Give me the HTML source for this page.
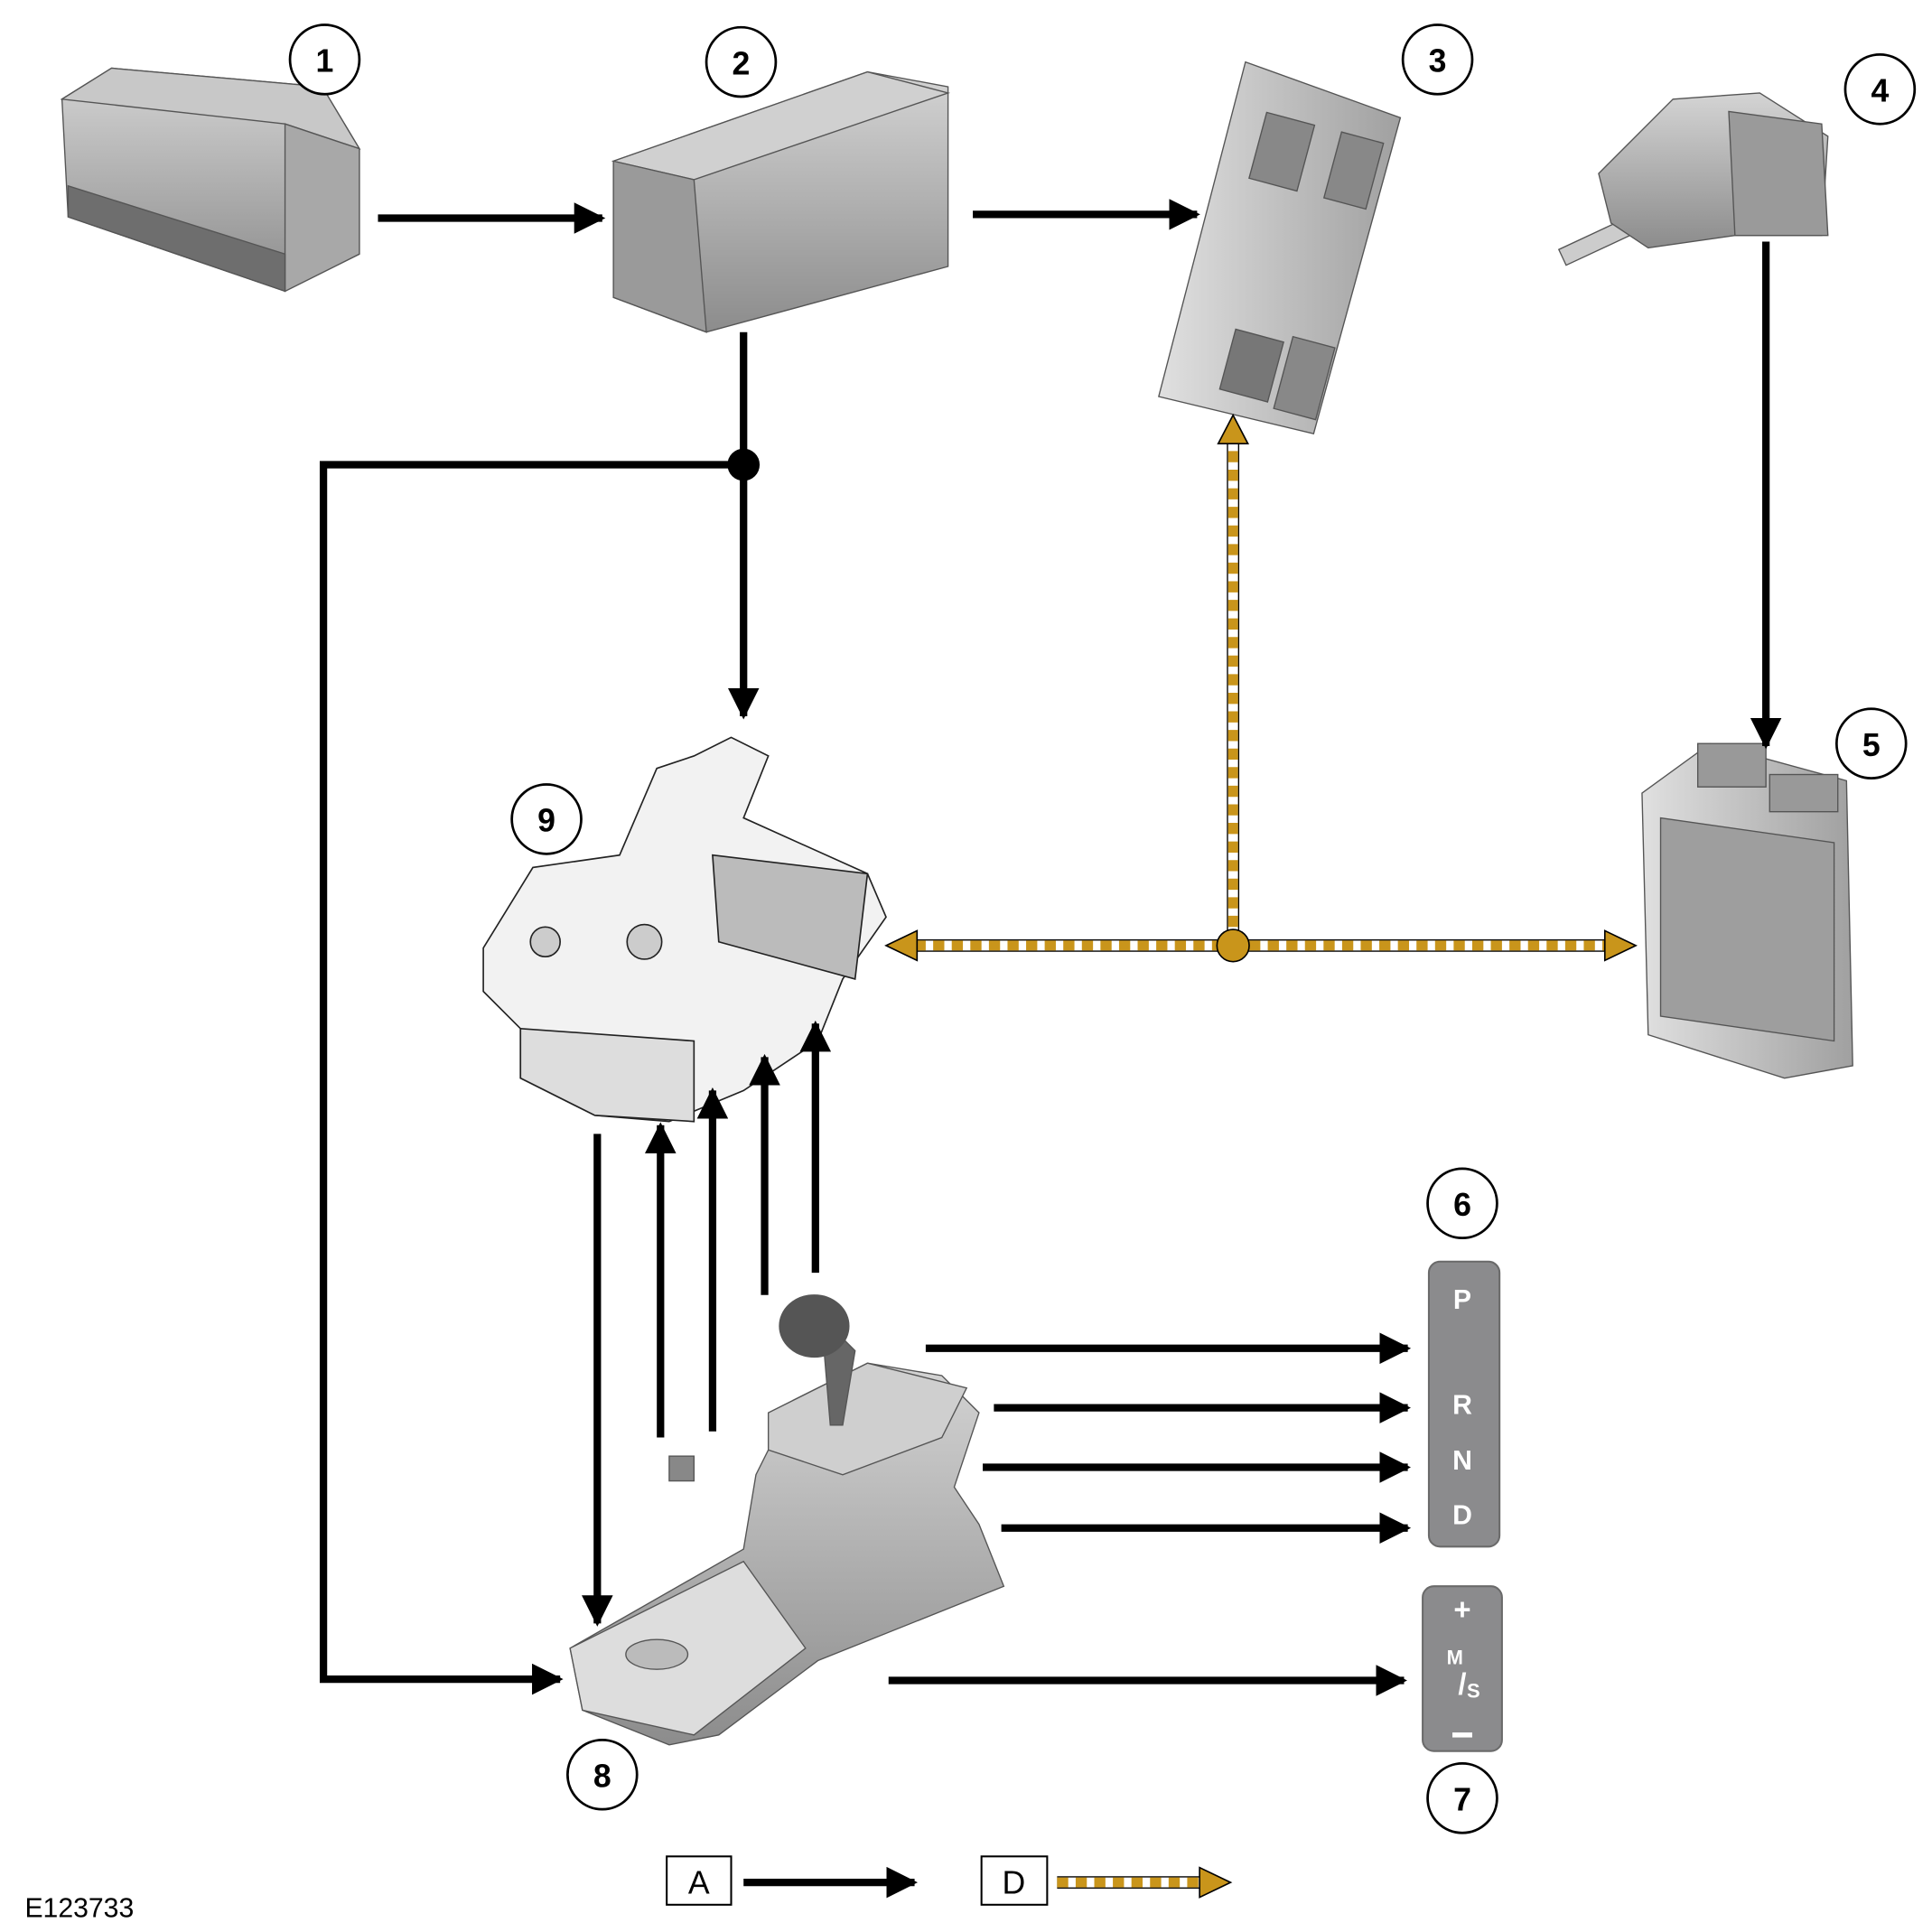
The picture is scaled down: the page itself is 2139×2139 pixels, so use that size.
<!DOCTYPE html>
<html><head><meta charset="utf-8"><style>
html,body{margin:0;padding:0;background:#fff}
svg{display:block}
text{font-family:"Liberation Sans",sans-serif}
</style></head><body>
<svg width="2139" height="2139" viewBox="0 0 1559 1559" xmlns="http://www.w3.org/2000/svg">
<defs>
<linearGradient id="g1" x1="0" y1="0" x2="0" y2="1"><stop offset="0" stop-color="#d4d4d4"/><stop offset="1" stop-color="#8c8c8c"/></linearGradient>
<linearGradient id="g2" x1="0" y1="0" x2="1" y2="0"><stop offset="0" stop-color="#e0e0e0"/><stop offset="1" stop-color="#a0a0a0"/></linearGradient>
<marker id="ah" viewBox="0 0 10 10" refX="9" refY="5" markerWidth="4.2" markerHeight="4.2" orient="auto" markerUnits="strokeWidth"><path d="M0,0 L10,5 L0,10 z" fill="#000"/></marker>
</defs>

<!-- Component 1 battery -->
<g stroke="#555" stroke-width="1">
<polygon points="50,80 90,55 260,70 290,120 290,205 230,235 55,175" fill="url(#g1)"/>
<polygon points="50,80 90,55 260,70 290,120 230,100" fill="#c8c8c8"/>
<polygon points="230,100 290,120 290,205 230,235" fill="#a8a8a8"/>
<polygon points="55,150 230,205 230,235 55,175" fill="#6e6e6e"/>
</g>
<!-- Component 2 fuse box -->
<g stroke="#555" stroke-width="1">
<polygon points="495,130 700,58 765,70 765,215 570,268 495,240" fill="url(#g1)"/>
<polygon points="495,130 700,58 765,75 560,145" fill="#d0d0d0"/>
<polygon points="495,130 560,145 570,268 495,240" fill="#9a9a9a"/>
</g>
<!-- Component 3 board -->
<g stroke="#555" stroke-width="1">
<polygon points="1005,50 1130,95 1060,350 935,320" fill="url(#g2)"/>
<rect x="1015" y="95" width="40" height="55" fill="#888" transform="rotate(15 1035 120)"/>
<rect x="1075" y="110" width="35" height="55" fill="#888" transform="rotate(15 1092 137)"/>
<rect x="990" y="270" width="40" height="50" fill="#777" transform="rotate(15 1010 295)"/>
<rect x="1035" y="275" width="35" height="60" fill="#888" transform="rotate(15 1052 305)"/>
</g>
<!-- Component 4 sensor -->
<g stroke="#555" stroke-width="1">
<rect x="1258" y="188" width="60" height="14" fill="#ccc" transform="rotate(-25 1288 195)"/>
<polygon points="1290,140 1350,80 1420,75 1475,110 1470,190 1400,190 1330,200 1300,180" fill="url(#g1)"/>
<polygon points="1395,90 1470,100 1475,190 1400,190" fill="#9a9a9a"/>
</g>
<!-- Component 5 ECU -->
<g stroke="#555" stroke-width="1">
<polygon points="1325,640 1380,600 1490,630 1495,860 1440,870 1330,835" fill="url(#g2)"/>
<rect x="1370" y="600" width="55" height="35" fill="#999"/>
<rect x="1428" y="625" width="55" height="30" fill="#999"/>
<polygon points="1340,660 1480,680 1480,840 1340,820" fill="#9e9e9e"/>
</g>
<!-- Component 9 valve body -->
<g stroke="#222" stroke-width="1.2">
<polygon points="390,765 430,700 500,690 530,620 560,610 590,595 620,610 600,660 700,705 715,740 680,790 660,840 600,880 540,905 480,900 420,870 420,830 390,800" fill="#f2f2f2"/>
<polygon points="420,830 560,840 560,905 480,900 420,870" fill="#ddd"/>
<polygon points="575,690 700,705 690,790 580,760" fill="#bbb"/>
<circle cx="440" cy="760" r="12" fill="#ccc"/>
<circle cx="520" cy="760" r="14" fill="#ccc"/>
</g>
<!-- Component 8 shifter -->
<g stroke="#555" stroke-width="1">
<polygon points="460,1330 600,1250 610,1190 640,1130 700,1100 760,1110 790,1140 770,1200 790,1230 810,1280 660,1340 580,1400 540,1408 470,1380" fill="url(#g1)"/>
<polygon points="620,1140 700,1100 780,1120 760,1160 680,1190 620,1170" fill="#cfcfcf"/>
<polygon points="460,1330 600,1260 650,1330 560,1400 470,1380" fill="#ddd"/>
<ellipse cx="530" cy="1335" rx="25" ry="12" fill="#bbb"/>
<polygon points="680,1150 690,1090 675,1075 665,1090 670,1150" fill="#666"/>
<ellipse cx="657" cy="1070" rx="28" ry="25" fill="#555"/>
<rect x="540" y="1175" width="20" height="20" fill="#888"/>
</g>

<!-- Black connectors -->
<g stroke="#000" stroke-width="6" fill="none" marker-end="url(#ah)">
<line x1="305" y1="176" x2="486" y2="176"/>
<line x1="785" y1="173" x2="966" y2="173"/>
<line x1="1425" y1="195" x2="1425" y2="602"/>
<line x1="600" y1="268" x2="600" y2="578"/>
<polyline points="600,375 261,375 261,1355 452,1355"/>
<line x1="482" y1="915" x2="482" y2="1310"/>
<line x1="533" y1="1160" x2="533" y2="908"/>
<line x1="575" y1="1155" x2="575" y2="880"/>
<line x1="617" y1="1045" x2="617" y2="853"/>
<line x1="658" y1="1027" x2="658" y2="826"/>
<line x1="747" y1="1088" x2="1136" y2="1088"/>
<line x1="802" y1="1136" x2="1136" y2="1136"/>
<line x1="793" y1="1184" x2="1136" y2="1184"/>
<line x1="808" y1="1233" x2="1136" y2="1233"/>
<line x1="717" y1="1356" x2="1133" y2="1356"/>
<line x1="600" y1="1519" x2="738" y2="1519"/>
</g>
<circle cx="600" cy="375" r="13" fill="#000"/>

<!-- Gold dashed connectors -->
<g fill="none">
<line x1="995" y1="763" x2="995" y2="355" stroke="#000" stroke-width="10"/>
<line x1="995" y1="763" x2="995" y2="355" stroke="#fff" stroke-width="8"/>
<line x1="995" y1="763" x2="995" y2="355" stroke="#c9951b" stroke-width="8" stroke-dasharray="9,6"/>
<line x1="738" y1="763" x2="1298" y2="763" stroke="#000" stroke-width="10"/>
<line x1="738" y1="763" x2="1298" y2="763" stroke="#fff" stroke-width="8"/>
<line x1="738" y1="763" x2="1298" y2="763" stroke="#c9951b" stroke-width="8" stroke-dasharray="9,6"/>
<line x1="853" y1="1519" x2="970" y2="1519" stroke="#000" stroke-width="10"/>
<line x1="853" y1="1519" x2="970" y2="1519" stroke="#fff" stroke-width="8"/>
<line x1="853" y1="1519" x2="970" y2="1519" stroke="#c9951b" stroke-width="8" stroke-dasharray="9,6"/>
</g>
<g fill="#c9951b" stroke="#000" stroke-width="1.2">
<polygon points="995,335 983,358 1007,358"/>
<polygon points="715,763 740,751 740,775"/>
<polygon points="1320,763 1295,751 1295,775"/>
<polygon points="993,1519 968,1507 968,1531"/>
<circle cx="995" cy="763" r="13"/>
</g>

<!-- Gear boxes -->
<rect x="1153" y="1018" width="57" height="230" rx="9" fill="#8b8b8d" stroke="#6a6a6a" stroke-width="1.5"/>
<g fill="#fff" font-weight="bold" font-size="22" text-anchor="middle">
<text x="1180" y="1056">P</text>
<text x="1180" y="1141">R</text>
<text x="1180" y="1186">N</text>
<text x="1180" y="1230">D</text>
</g>
<rect x="1148" y="1280" width="64" height="133" rx="9" fill="#8b8b8d" stroke="#6a6a6a" stroke-width="1.5"/>
<g fill="#fff" font-weight="bold" text-anchor="middle">
<text x="1180" y="1307" font-size="24">+</text>
<text x="1174" y="1343" font-size="16">M</text>
<text x="1180" y="1367" font-size="24">/</text>
<text x="1189" y="1370" font-size="16">S</text>
<rect x="1172" y="1398" width="16" height="4"/>
</g>

<!-- Number circles -->
<g fill="#fff" stroke="#000" stroke-width="2">
<circle cx="262" cy="48" r="28"/><circle cx="598" cy="50" r="28"/><circle cx="1160" cy="48" r="28"/>
<circle cx="1517" cy="72" r="28"/><circle cx="1510" cy="600" r="28"/><circle cx="1180" cy="971" r="28"/>
<circle cx="1180" cy="1451" r="28"/><circle cx="486" cy="1432" r="28"/><circle cx="441" cy="661" r="28"/>
</g>
<g font-weight="bold" font-size="26" text-anchor="middle">
<text x="262" y="58">1</text><text x="598" y="60">2</text><text x="1160" y="58">3</text>
<text x="1517" y="82">4</text><text x="1510" y="610">5</text><text x="1180" y="981">6</text>
<text x="1180" y="1461">7</text><text x="486" y="1442">8</text><text x="441" y="671">9</text>
</g>

<!-- Legend -->
<rect x="538" y="1498" width="52" height="39" fill="#fff" stroke="#000" stroke-width="1.5"/>
<text x="564" y="1528" font-size="26" text-anchor="middle">A</text>
<rect x="792" y="1498" width="53" height="39" fill="#fff" stroke="#000" stroke-width="1.5"/>
<text x="818" y="1528" font-size="26" text-anchor="middle">D</text>
<text x="20" y="1547" font-size="22">E123733</text>
</svg>
</body></html>
